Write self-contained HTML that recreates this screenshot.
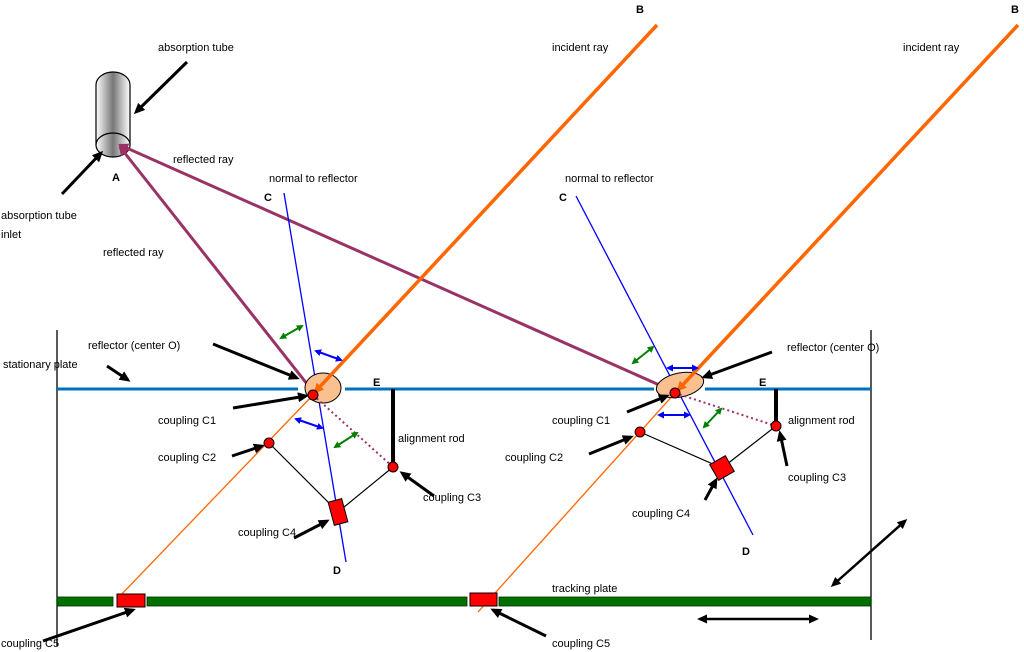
<!DOCTYPE html>
<html><head><meta charset="utf-8"><style>
html,body{margin:0;padding:0;background:#fff;}
svg{display:block;font-family:"Liberation Sans",Arial,sans-serif;}
text{font-size:11px;fill:#000;}
.b{font-weight:bold;}
</style></head><body>
<svg width="1024" height="652" viewBox="0 0 1024 652">
<defs>
<marker id="ab" markerWidth="11" markerHeight="10" refX="8" refY="5" orient="auto" markerUnits="userSpaceOnUse"><path d="M0,0 L11,5 L0,10 z" fill="#000"/></marker>
<marker id="ap" markerWidth="10" markerHeight="10" refX="8" refY="5" orient="auto" markerUnits="userSpaceOnUse"><path d="M0,0 L10,5 L0,10 z" fill="#993366"/></marker>
<marker id="ao" markerWidth="10" markerHeight="10" refX="8" refY="5" orient="auto" markerUnits="userSpaceOnUse"><path d="M0,0 L10,5 L0,10 z" fill="#ff6600"/></marker>
<marker id="gb" markerWidth="7" markerHeight="7" refX="5" refY="3.5" orient="auto-start-reverse" markerUnits="userSpaceOnUse"><path d="M0,0 L7,3.5 L0,7 z" fill="#008000"/></marker>
<marker id="bb" markerWidth="7" markerHeight="7" refX="5" refY="3.5" orient="auto-start-reverse" markerUnits="userSpaceOnUse"><path d="M0,0 L7,3.5 L0,7 z" fill="#0000ff"/></marker>
<marker id="kb" markerWidth="10" markerHeight="9" refX="7" refY="4.5" orient="auto-start-reverse" markerUnits="userSpaceOnUse"><path d="M0,0 L10,4.5 L0,9 z" fill="#000"/></marker>
<linearGradient id="tube" x1="0" x2="1"><stop offset="0" stop-color="#fff"/><stop offset="0.5" stop-color="#777"/><stop offset="1" stop-color="#fff"/></linearGradient>
</defs>

<line x1="57" y1="330" x2="57" y2="646" stroke="#000" stroke-width="1.3"/>
<line x1="871" y1="330" x2="871" y2="640" stroke="#000" stroke-width="1.3"/>

<g stroke="#0070c0" stroke-width="3">
<line x1="57" y1="389" x2="298" y2="389"/><line x1="345" y1="389" x2="654" y2="389"/><line x1="705" y1="389" x2="871" y2="389"/>
</g>

<g fill="#007000" stroke="#003000" stroke-width="0.8">
<rect x="57" y="597" width="56" height="9"/>
<rect x="147" y="597" width="320" height="9"/>
<rect x="499" y="597" width="372" height="9"/>
</g>

<g>
<path d="M96,145 L96,85 A17,13 0 0 1 130,85 L130,145 Z" fill="url(#tube)" stroke="#000" stroke-width="1.2"/>
<ellipse cx="113" cy="145" rx="17" ry="12" fill="url(#tube)" stroke="#000" stroke-width="1.2"/>
</g>

<line x1="311" y1="389" x2="120" y2="147" stroke="#993366" stroke-width="3" marker-end="url(#ap)"/>
<line x1="675" y1="392" x2="120" y2="145" stroke="#993366" stroke-width="3" marker-end="url(#ap)"/>

<g>
<line x1="313" y1="395" x2="118" y2="598" stroke="#ff6600" stroke-width="1.3"/>
<line x1="284" y1="193" x2="346" y2="562" stroke="#0000ff" stroke-width="1.3"/>
<ellipse cx="323" cy="388" rx="18" ry="15" fill="#fac090" stroke="#000" stroke-width="1"/>
<line x1="657" y1="25" x2="315" y2="392" stroke="#ff6600" stroke-width="3.5" marker-end="url(#ao)"/>
<line x1="313" y1="395" x2="393" y2="467" stroke="#993366" stroke-width="2" stroke-dasharray="2,3"/>
<line x1="393" y1="389" x2="393" y2="467" stroke="#000" stroke-width="4"/>
<polyline points="269,443 338,512 393,467" fill="none" stroke="#000" stroke-width="1.2"/>
<circle cx="313" cy="395" r="5" fill="#ff0000" stroke="#000"/>
<circle cx="269" cy="443" r="5" fill="#ff0000" stroke="#000"/>
<circle cx="393" cy="467" r="5" fill="#ff0000" stroke="#000"/>
<rect x="331" y="500" width="14" height="24" fill="#ff0000" stroke="#000" transform="rotate(-15 338 512)"/>
<line x1="281" y1="338" x2="302" y2="326" stroke="#008000" stroke-width="2" marker-start="url(#gb)" marker-end="url(#gb)"/>
<line x1="316" y1="351" x2="341" y2="360" stroke="#0000ff" stroke-width="2" marker-start="url(#bb)" marker-end="url(#bb)"/>
<line x1="296" y1="419" x2="322" y2="428" stroke="#0000ff" stroke-width="2" marker-start="url(#bb)" marker-end="url(#bb)"/>
<line x1="335" y1="447" x2="357" y2="433" stroke="#008000" stroke-width="2" marker-start="url(#gb)" marker-end="url(#gb)"/>
</g>
<rect x="117" y="594" width="28" height="13" fill="#ff0000" stroke="#000"/>

<g>
<line x1="675" y1="393" x2="478" y2="612" stroke="#ff6600" stroke-width="1.3"/>
<line x1="576" y1="196" x2="753" y2="535" stroke="#0000ff" stroke-width="1.3"/>
<ellipse cx="680" cy="385" rx="24" ry="12" fill="#fac090" stroke="#000" stroke-width="1" transform="rotate(-12 680 385)"/>
<line x1="1018" y1="25" x2="678" y2="390" stroke="#ff6600" stroke-width="3.5" marker-end="url(#ao)"/>
<line x1="675" y1="393" x2="776" y2="426" stroke="#993366" stroke-width="2" stroke-dasharray="2,3"/>
<line x1="776" y1="389" x2="776" y2="426" stroke="#000" stroke-width="4"/>
<polyline points="640,432 722,468 776,426" fill="none" stroke="#000" stroke-width="1.2"/>
<circle cx="675" cy="393" r="5" fill="#ff0000" stroke="#000"/>
<circle cx="640" cy="432" r="5" fill="#ff0000" stroke="#000"/>
<circle cx="776" cy="426" r="5" fill="#ff0000" stroke="#000"/>
<rect x="713" y="459" width="18" height="18" fill="#ff0000" stroke="#000" transform="rotate(-30 722 468)"/>
<line x1="633" y1="363" x2="653" y2="347" stroke="#008000" stroke-width="2" marker-start="url(#gb)" marker-end="url(#gb)"/>
<line x1="668" y1="368" x2="697" y2="368" stroke="#0000ff" stroke-width="2" marker-start="url(#bb)" marker-end="url(#bb)"/>
<line x1="659" y1="415" x2="689" y2="415" stroke="#0000ff" stroke-width="2" marker-start="url(#bb)" marker-end="url(#bb)"/>
<line x1="704" y1="427" x2="721" y2="409" stroke="#008000" stroke-width="2" marker-start="url(#gb)" marker-end="url(#gb)"/>
</g>
<rect x="470" y="593" width="27" height="13" fill="#ff0000" stroke="#000"/>

<g stroke="#000" stroke-width="3" marker-end="url(#ab)">
<line x1="187" y1="62" x2="136" y2="112"/>
<line x1="62" y1="194" x2="101" y2="153"/>
<line x1="107" y1="366" x2="128" y2="380"/>
<line x1="213" y1="344" x2="297" y2="378"/>
<line x1="233" y1="408" x2="306" y2="396"/>
<line x1="232" y1="456" x2="262" y2="446"/>
<line x1="434" y1="496" x2="402" y2="473"/>
<line x1="294" y1="538" x2="327" y2="521"/>
<line x1="43" y1="641" x2="133" y2="610"/>
<line x1="546" y1="636" x2="493" y2="610"/>
<line x1="772" y1="352" x2="704" y2="377"/>
<line x1="627" y1="412" x2="667" y2="396"/>
<line x1="589" y1="454" x2="631" y2="437"/>
<line x1="787" y1="466" x2="780" y2="433"/>
<line x1="705" y1="500" x2="716" y2="480"/>
</g>
<line x1="833" y1="585" x2="905" y2="521" stroke="#000" stroke-width="2.5" marker-start="url(#kb)" marker-end="url(#kb)"/>
<line x1="700" y1="619" x2="816" y2="619" stroke="#000" stroke-width="2.5" marker-start="url(#kb)" marker-end="url(#kb)"/>

<g>
<text x="158" y="51">absorption tube</text>
<text x="1" y="219">absorption tube</text>
<text x="1" y="238">inlet</text>
<text class="b" x="112" y="181">A</text>
<text x="173" y="163">reflected ray</text>
<text x="103" y="256">reflected ray</text>
<text x="269" y="182">normal to reflector</text>
<text class="b" x="264" y="201">C</text>
<text x="552" y="51">incident ray</text>
<text class="b" x="636" y="13">B</text>
<text x="903" y="51">incident ray</text>
<text class="b" x="1011" y="13">B</text>
<text x="565" y="182">normal to reflector</text>
<text class="b" x="559" y="201">C</text>
<text x="88" y="349">reflector (center O)</text>
<text x="3" y="368">stationary plate</text>
<text x="787" y="351">reflector (center O)</text>
<text class="b" x="373" y="386">E</text>
<text class="b" x="759" y="386">E</text>
<text x="158" y="424">coupling C1</text>
<text x="158" y="461">coupling C2</text>
<text x="398" y="442">alignment rod</text>
<text x="423" y="501">coupling C3</text>
<text x="238" y="536">coupling C4</text>
<text class="b" x="333" y="574">D</text>
<text x="552" y="424">coupling C1</text>
<text x="505" y="461">coupling C2</text>
<text x="788" y="424">alignment rod</text>
<text x="788" y="481">coupling C3</text>
<text x="632" y="517">coupling C4</text>
<text class="b" x="742" y="555">D</text>
<text x="552" y="592">tracking plate</text>
<text x="1" y="647">coupling C5</text>
<text x="552" y="647">coupling C5</text>
</g>
</svg>
</body></html>
